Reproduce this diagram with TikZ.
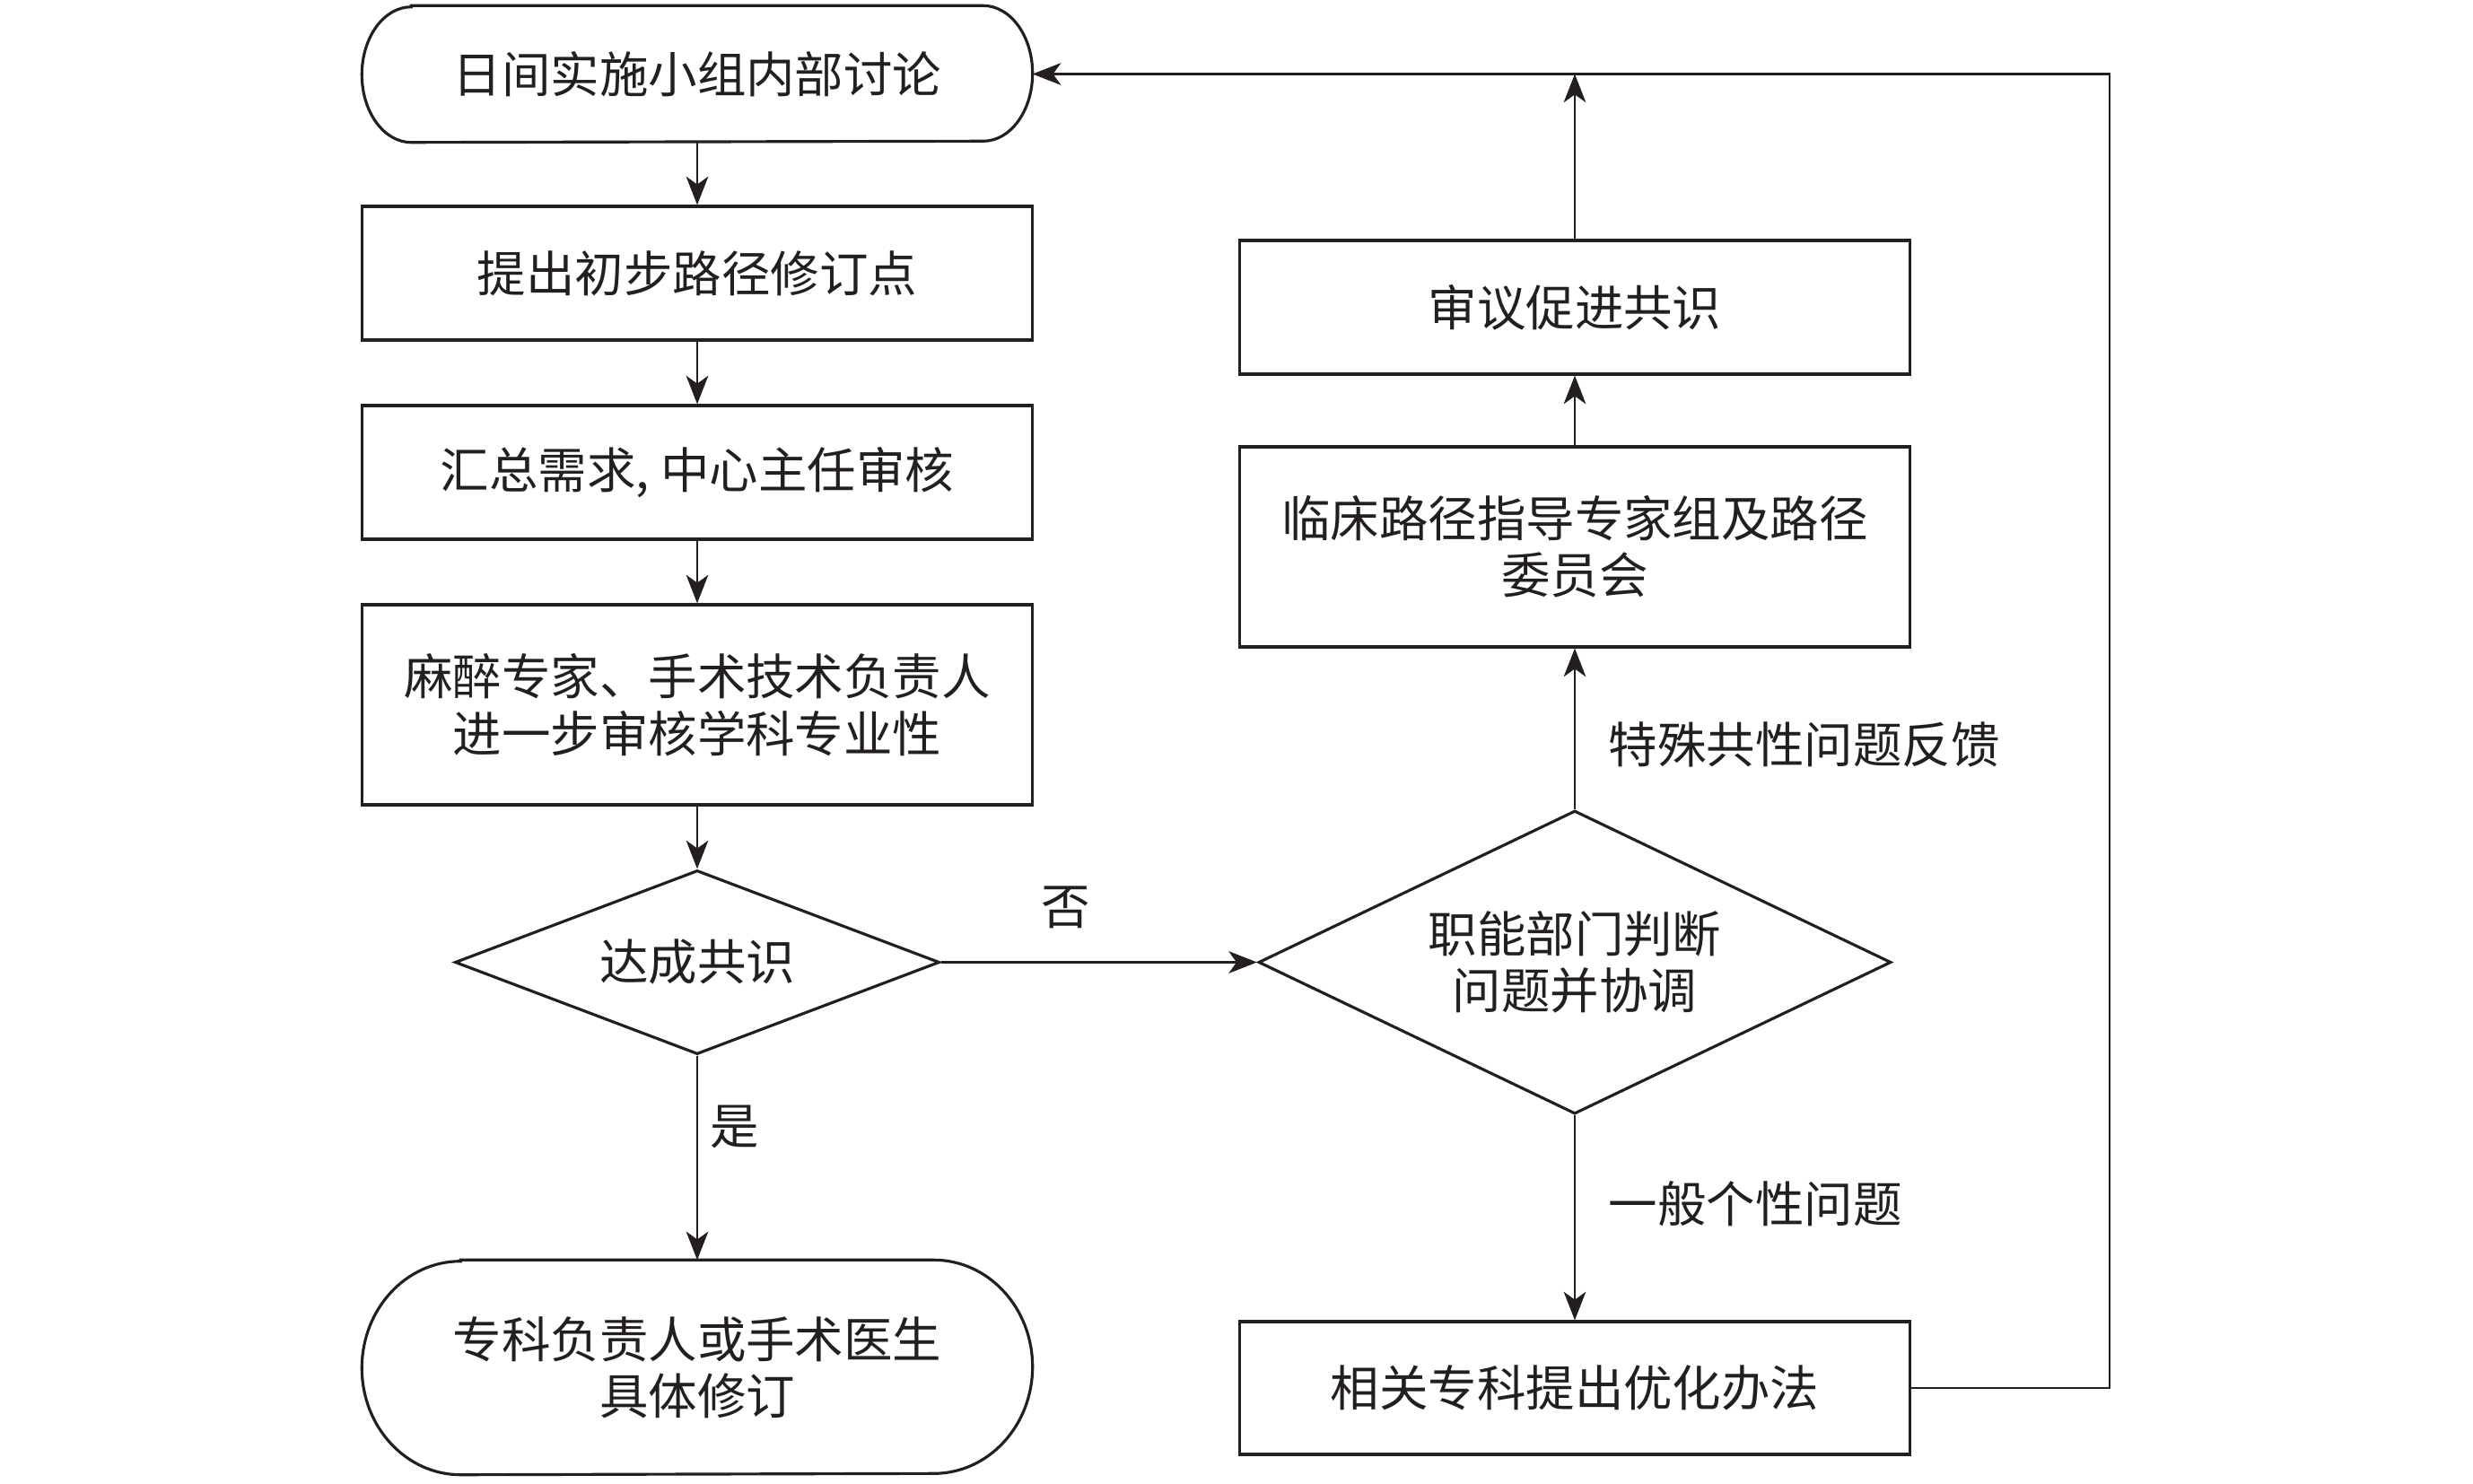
\documentclass[tikz,border=0pt]{standalone}
\usepackage{fontspec}
\setmainfont{Noto Sans CJK SC}
\usetikzlibrary{shapes.geometric,arrows.meta,calc}
\definecolor{ink}{HTML}{231F20}
\begin{document}
\begin{tikzpicture}[x=1cm,y=1cm,
  txt/.style={font=\fontsize{15.5pt}{18pt}\selectfont, text=ink, align=center},
  lbl/.style={txt, inner sep=0pt},
  box/.style={txt, rectangle, draw=ink, line width=0.9pt, minimum width=7.47cm, inner sep=0pt},
  termbox/.style={txt, rectangle, draw=none, minimum width=7.46cm, inner sep=0pt},
  boxline/.style={draw=ink, line width=0.9pt},
  dec/.style={txt, diamond, draw=ink, line width=0.9pt, inner sep=0pt},
  conn/.style={draw=ink, line width=0.75pt, -{Stealth[length=9pt,width=7pt,inset=2.5pt]}},
  plain/.style={draw=ink, line width=0.75pt}
]
\useasboundingbox (0,0) rectangle (27.56,-16.54);

% left column
\node[termbox, minimum height=1.51cm] (t1) at (7.77,-0.825) {日间实施小组内部讨论};
\draw[boxline] ($(t1.north west)+(0.55,0)$) -- ($(t1.north east)-(0.55,0)$)
  arc[start angle=90,end angle=-90,x radius=0.55,y radius=0.755]
  -- ($(t1.south west)+(0.55,0)$)
  arc[start angle=270,end angle=90,x radius=0.55,y radius=0.755] -- cycle;

\node[box, minimum height=1.49cm] (b2) at (7.77,-3.045) {提出初步路径修订点};
\node[box, minimum height=1.49cm] (b3) at (7.77,-5.265) {汇总需求, 中心主任审核};
\node[box, minimum height=2.23cm] (b4) at (7.77,-7.855) {麻醉专家、手术技术负责人\\进一步审核学科专业性};
\node[dec, shape aspect=2.63, minimum width=5.40cm, minimum height=2.05cm] (d1) at (7.77,-10.725) {达成共识};

\node[termbox, minimum height=2.38cm] (tb) at (7.77,-15.24) {专科负责人或手术医生\\具体修订};
\draw[boxline] ($(tb.north west)+(1.1,0)$) -- ($(tb.north east)-(1.1,0)$)
  arc[start angle=90,end angle=-90,x radius=1.1,y radius=1.19]
  -- ($(tb.south west)+(1.1,0)$)
  arc[start angle=270,end angle=90,x radius=1.1,y radius=1.19] -- cycle;

% right column
\node[box, minimum height=1.49cm] (r1) at (17.55,-3.425) {审议促进共识};
\node[box, minimum height=2.23cm] (r2) at (17.55,-6.095) {临床路径指导专家组及路径\\委员会};
\node[dec, shape aspect=2.09, minimum width=7.05cm, minimum height=3.38cm] (d2) at (17.55,-10.725) {职能部门判断\\问题并协调};
\node[box, minimum height=1.48cm] (r3) at (17.55,-15.47) {相关专科提出优化办法};

\coordinate (topj) at (17.55,-0.825);
\coordinate (loopc) at (23.51,-0.825);

% labels
\node[lbl] (no) at (11.88,-10.11) {否};
\node[lbl] (yes) at (8.19,-12.56) {是};
\node[lbl, anchor=west] (spec) at (17.92,-8.30) {特殊共性问题反馈};
\node[lbl, anchor=west] (gen) at (17.92,-13.42) {一般个性问题};

% connectors
\draw[conn] (t1.south) -- (b2.north);
\draw[conn] (b2.south) -- (b3.north);
\draw[conn] (b3.south) -- (b4.north);
\draw[conn] (b4.south) -- (d1.north);
\draw[conn] (d1.south) -- (tb.north);
\draw[conn] (d1.east) -- (d2.west);
\draw[conn] (d2.north) -- (r2.south);
\draw[conn] (r2.north) -- (r1.south);
\draw[conn] (r1.north) -- (topj);
\draw[conn] (d2.south) -- (r3.north);
\draw[conn] (r3.east) -| (loopc) -- (t1.east);
\end{tikzpicture}
\end{document}
